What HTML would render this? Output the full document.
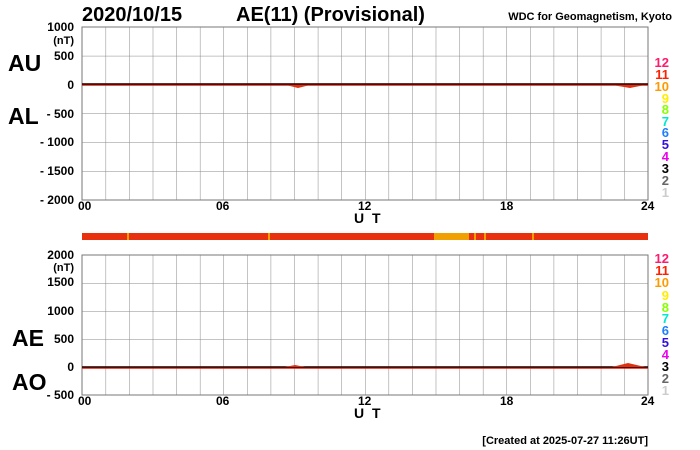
<!DOCTYPE html>
<html><head><meta charset="utf-8"><style>
body{margin:0;background:#fff;}
svg{display:block;font-family:"Liberation Sans",Arial,sans-serif;font-weight:bold;}
</style></head><body>
<svg width="700" height="450" viewBox="0 0 700 450" xmlns="http://www.w3.org/2000/svg">
<defs>
<pattern id="g1" x="82" y="27" width="23.583" height="28.833" patternUnits="userSpaceOnUse">
<path d="M0 0 V28.833 M0 0 H23.583" stroke="#888" stroke-width="1" fill="none"/></pattern>
<pattern id="g2" x="82" y="255" width="23.583" height="28" patternUnits="userSpaceOnUse">
<path d="M0 0 V28 M0 0 H23.583" stroke="#888" stroke-width="1" fill="none"/></pattern>
</defs>
<text x="82" y="21" font-size="20">2020/10/15</text>
<text x="236" y="21" font-size="20">AE(11) (Provisional)</text>
<text x="672" y="20" font-size="11" text-anchor="end">WDC for Geomagnetism, Kyoto</text>

<rect x="82" y="27" width="566" height="173" fill="url(#g1)"/>
<rect x="82" y="27" width="566" height="173" fill="none" stroke="#777"/>
<g font-size="12" text-anchor="end">
<text x="74" y="31">1000</text><text x="74" y="44" font-size="11">(nT)</text>
<text x="74" y="60">500</text><text x="74" y="89">0</text>
<text x="74" y="118">- 500</text><text x="74" y="146">- 1000</text>
<text x="74" y="175">- 1500</text><text x="74" y="204">- 2000</text>
</g>
<text x="8" y="71" font-size="23">AU</text>
<text x="8" y="124" font-size="23">AL</text>
<g font-size="12"><text x="78" y="210">00</text><text x="216" y="210">06</text><text x="358" y="210">12</text><text x="500" y="210">18</text><text x="641" y="210">24</text></g>
<text x="354" y="223" font-size="14" letter-spacing="2">U T</text>
<path d="M82 84.5 H648" stroke="#d82010" stroke-width="2.5" fill="none"/>
<path d="M82 84 H648" stroke="#000" stroke-width="1.3"/>
<path d="M286 85 L298 88 L310 85 Z M612 85 L630 88 L645 85 Z" fill="#e03010"/>

<rect x="82" y="233" width="566" height="7" fill="#e8300e"/>
<rect x="127" y="233" width="2" height="7" fill="#f0a000"/>
<rect x="268" y="233" width="2" height="7" fill="#f0a000"/>
<rect x="434" y="233" width="35" height="7" fill="#f0a000"/>
<rect x="474" y="233" width="2" height="7" fill="#f0a000"/>
<rect x="484" y="233" width="2" height="7" fill="#f0a000"/>
<rect x="532" y="233" width="2" height="7" fill="#f0a000"/>

<rect x="82" y="255" width="566" height="140" fill="url(#g2)"/>
<rect x="82" y="255" width="566" height="140" fill="none" stroke="#777"/>
<g font-size="12" text-anchor="end">
<text x="74" y="259">2000</text><text x="74" y="271" font-size="11">(nT)</text>
<text x="74" y="286">1500</text><text x="74" y="315">1000</text>
<text x="74" y="343">500</text><text x="74" y="371">0</text>
<text x="74" y="399">- 500</text>
</g>
<text x="12" y="346" font-size="23">AE</text>
<text x="12" y="390" font-size="23">AO</text>
<g font-size="12"><text x="78" y="405">00</text><text x="216" y="405">06</text><text x="358" y="405">12</text><text x="500" y="405">18</text><text x="641" y="405">24</text></g>
<text x="354" y="418" font-size="14" letter-spacing="2">U T</text>
<path d="M82 367.5 H648" stroke="#d82010" stroke-width="2.5" fill="none"/>
<path d="M82 367 H648" stroke="#000" stroke-width="1.3"/>
<path d="M612 367 L628 363 L645 367 Z M285 367 L295 365 L305 367 Z" fill="#e03010"/>

<g font-size="13" text-anchor="end">
<text x="669" y="67" fill="#ff1a6e">12</text><text x="669" y="79" fill="#ff2000">11</text>
<text x="669" y="91" fill="#ff9900">10</text><text x="669" y="103" fill="#ffee00">9</text>
<text x="669" y="114" fill="#88ff00">8</text><text x="669" y="126" fill="#00e8d0">7</text>
<text x="669" y="137" fill="#1e7fff">6</text><text x="669" y="149" fill="#3010e0">5</text>
<text x="669" y="161" fill="#ee00ee">4</text><text x="669" y="173" fill="#000">3</text>
<text x="669" y="185" fill="#666">2</text><text x="669" y="197" fill="#ccc">1</text>
</g>
<g font-size="13" text-anchor="end">
<text x="669" y="263" fill="#ff1a6e">12</text><text x="669" y="275" fill="#ff2000">11</text>
<text x="669" y="287" fill="#ff9900">10</text><text x="669" y="300" fill="#ffee00">9</text>
<text x="669" y="312" fill="#88ff00">8</text><text x="669" y="323" fill="#00e8d0">7</text>
<text x="669" y="335" fill="#1e7fff">6</text><text x="669" y="347" fill="#3010e0">5</text>
<text x="669" y="359" fill="#ee00ee">4</text><text x="669" y="371" fill="#000">3</text>
<text x="669" y="383" fill="#666">2</text><text x="669" y="395" fill="#ccc">1</text>
</g>
<text x="648" y="444" font-size="11" text-anchor="end">[Created at 2025-07-27 11:26UT]</text>
</svg>
</body></html>
